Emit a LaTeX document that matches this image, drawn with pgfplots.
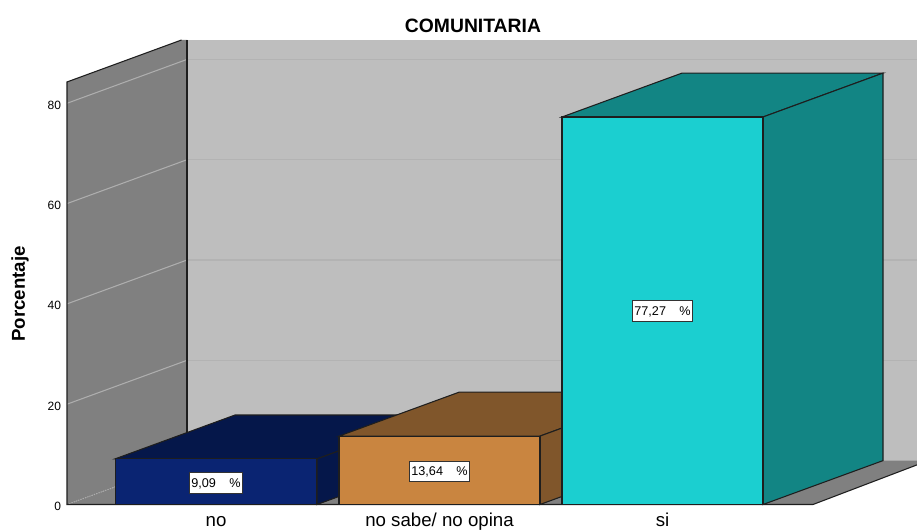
\documentclass[border=0pt]{standalone}
\usepackage{fontspec}
\setmainfont{Liberation Sans}
\usepackage{pgfplots}
\pgfplotsset{compat=1.18}
\definecolor{wallL}{HTML}{808080}
\definecolor{wallB}{HTML}{BEBEBE}
\definecolor{gridB}{HTML}{B3B3B3}
\definecolor{gridL}{HTML}{AEAEAE}
\definecolor{noF}{HTML}{0A2472}
\definecolor{noD}{HTML}{05174A}
\definecolor{saF}{HTML}{C98540}
\definecolor{saD}{HTML}{80562B}
\definecolor{siF}{HTML}{1BCFD0}
\definecolor{siD}{HTML}{128584}
\definecolor{edge}{HTML}{1E1E1E}
\tikzset{dl/.style={draw=black!80,fill=white,font=\fontsize{9.5pt}{10pt}\selectfont,inner xsep=1.6pt,inner ysep=0pt,minimum height=15.5pt,text height=6.8pt,text depth=0pt,line width=0.7pt}}
\begin{document}
\begin{tikzpicture}
\path[use as bounding box] (0,0) rectangle (687.75pt,398.25pt);
\begin{axis}[
  at={(50.25pt,19.875pt)},anchor=south west,
  scale only axis,width=637.5pt,height=348.375pt,
  xmin=67,xmax=917,ymin=0,ymax=92.62,
  clip=false,
  axis line style={draw=none},
  major tick length=0pt,
  xtick={216,439.5,662.5},
  xticklabels={no,no sabe/ no opina,si},
  ytick={0,20,40,60,80},
  tick label style={/pgf/number format/assume math mode=true},
  yticklabel style={font=\fontsize{9pt}{10pt}\selectfont,xshift=-1pt,yshift=-1.3pt},
  xticklabel style={font=\fontsize{14pt}{16pt}\selectfont,inner sep=0pt,text height=10pt,text depth=3pt,anchor=north,yshift=-6.2pt},
  title={\bfseries COMUNITARIA},
  title style={font=\fontsize{14.5pt}{16pt}\selectfont,at={(axis description cs:0.4776,1.030)},anchor=center,yshift=-6pt},
  ylabel={\bfseries Porcentaje},
  ylabel style={font=\fontsize{14pt}{16pt}\selectfont,at={(axis description cs:-0.0553,0.453)},anchor=center},
]
% walls and floor
\addplot[fill=wallB,draw=none] coordinates {(187,92.62)(917,92.62)(917,8.75)(187,8.75)} --cycle;
\addplot[fill=wallL,draw=none] coordinates {(67,84.25)(181.5,92.62)(187,92.62)(187,8.75)(67,0)} --cycle;
\addplot[fill=wallL,draw=none] coordinates {(67,0)(187,8.75)(917,8.75)(917,7.9)(813,0)} --cycle;
% gridlines
\addplot[gridL,line width=0.8pt] coordinates {(67,20)(187,28.75)};
\addplot[gridL,line width=0.8pt] coordinates {(67,40)(187,48.75)};
\addplot[gridL,line width=0.8pt] coordinates {(67,60)(187,68.75)};
\addplot[gridL,line width=0.8pt] coordinates {(67,80)(187,88.75)};
\addplot[gridL,line width=0.8pt,densely dotted] coordinates {(67,0)(115,3.5)};
\addplot[gridB,line width=0.9pt] coordinates {(187,28.75)(917,28.75)};
\addplot[gridB,line width=0.9pt] coordinates {(187,48.75)(917,48.75)};
\addplot[gridB,line width=0.9pt] coordinates {(187,68.75)(917,68.75)};
\addplot[gridB,line width=0.9pt] coordinates {(187,88.75)(917,88.75)};
% wall edges
\addplot[edge,line width=0.8pt] coordinates {(181.5,92.62)(67,84.25)(67,0)(813,0)(917,7.9)};
\addplot[edge,line width=0.8pt] coordinates {(187,92.62)(187,8.75)};
% bar: no
\addplot[fill=noD,draw=edge,line width=0.8pt] coordinates {(115,9.09)(235,17.84)(437,17.84)(317,9.09)} --cycle;
\addplot[fill=noD,draw=edge,line width=0.8pt] coordinates {(317,0)(437,8.75)(437,17.84)(317,9.09)} --cycle;
\addplot[ybar,bar width=150.75pt,fill=noF,draw=edge,line width=0.8pt] coordinates {(216,9.09)};
% bar: no sabe
\addplot[fill=saD,draw=edge,line width=0.8pt] coordinates {(339,13.64)(459,22.39)(660,22.39)(540,13.64)} --cycle;
\addplot[fill=saD,draw=edge,line width=0.8pt] coordinates {(540,0)(660,8.75)(660,22.39)(540,13.64)} --cycle;
\addplot[ybar,bar width=150.75pt,fill=saF,draw=edge,line width=0.8pt] coordinates {(439.5,13.64)};
% bar: si
\addplot[fill=siD,draw=edge,line width=0.8pt] coordinates {(562,77.27)(682,86.02)(883,86.02)(763,77.27)} --cycle;
\addplot[fill=siD,draw=edge,line width=0.8pt] coordinates {(763,0)(883,8.75)(883,86.02)(763,77.27)} --cycle;
\addplot[ybar,bar width=150.75pt,fill=siF,draw=edge,line width=0.8pt] coordinates {(662.5,77.27)};
% value labels
\node[dl] at (axis cs:216,4.35) {9,09\hspace{10pt}\%};
\node[dl] at (axis cs:439.5,6.6) {13,64\hspace{10pt}\%};
\node[dl] at (axis cs:662.5,38.6) {77,27\hspace{10pt}\%};
\end{axis}
\end{tikzpicture}
\end{document}
